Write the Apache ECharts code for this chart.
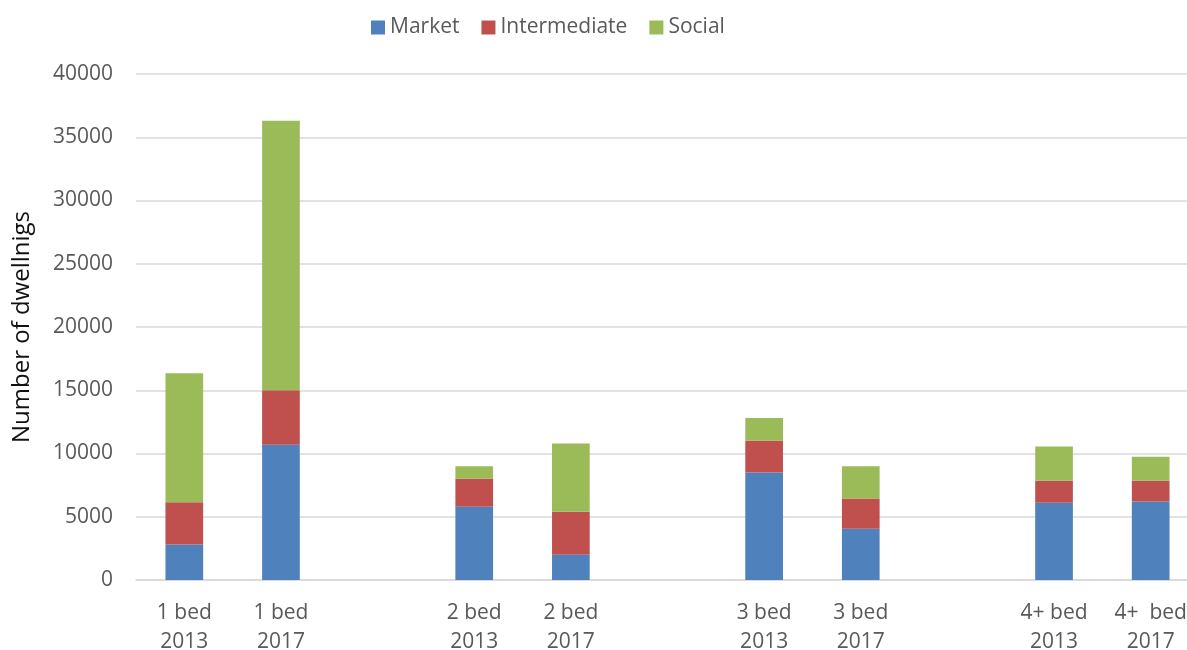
<!DOCTYPE html>
<html>
<head>
<meta charset="utf-8">
<script src="https://cdn.jsdelivr.net/npm/echarts@6/dist/echarts.min.js"></script>
<style>
    html, body { margin: 0; padding: 0; background: #fff; }
    #main { width: 1187px; height: 650px; }
</style>
</head>
<body>
<div id="main"></div>
<script>
// categories (empty ones are the gaps between bedroom groups)
var categories = ['1 bed\n2013', '1 bed\n2017', '', '2 bed\n2013', '2 bed\n2017', '', '3 bed\n2013', '3 bed\n2017', '', '4+ bed\n2013', '4+  bed\n2017'];
var market = [2800, 10700, '-', 5800, 2000, '-', 8500, 4050, '-', 6100, 6200];
var intermediate = [3350, 4300, '-', 2200, 3400, '-', 2500, 2400, '-', 1750, 1650];
var social = [10200, 21300, '-', 1000, 5400, '-', 1800, 2550, '-', 2700, 1900];
var yTicks = { min: 0, max: 40000, step: 5000 };

var font = '"Open Sans", sans-serif';
var chart = echarts.init(document.getElementById('main'));

function bar(name, data, color) {
    return {
        name: name,
        type: 'bar',
        stack: 'total',
        barWidth: '39%',
        data: data,
        itemStyle: { color: color },
        emphasis: { disabled: true }
    };
}

var option = {
    backgroundColor: '#fff',
    animation: false,
    textStyle: { fontFamily: font },
    legend: {
        top: 12,
        left: 366,
        icon: 'rect',
        itemWidth: 14,
        itemHeight: 14,
        itemGap: 22,
        textStyle: { fontFamily: font, fontSize: 21, color: '#595959' },
        data: ['Market', 'Intermediate', 'Social']
    },
    grid: {
        left: 136,
        right: -12,
        top: 74,
        bottom: 70,
        outerBoundsMode: 'none'
    },
    xAxis: {
        type: 'category',
        data: categories,
        axisTick: { show: false },
        axisLine: { lineStyle: { color: '#d9d9d9', width: 1.5 } },
        axisLabel: {
            interval: 0,
            margin: 19,
            fontFamily: font,
            fontSize: 21,
            lineHeight: 29,
            color: '#595959'
        }
    },
    yAxis: {
        type: 'value',
        min: yTicks.min,
        max: yTicks.max,
        interval: yTicks.step,
        name: 'Number of dwellnigs',
        nameLocation: 'middle',
        nameGap: 102,
        nameTextStyle: { fontFamily: font, fontSize: 24, color: '#111' },
        axisLine: { show: false },
        axisTick: { show: false },
        axisLabel: {
            margin: 23,
            fontFamily: font,
            fontSize: 21,
            color: '#595959',
            formatter: function (v) { return String(v); }
        },
        splitLine: { lineStyle: { color: '#d9d9d9', width: 1.5 } }
    },
    series: [
        bar('Market', market, '#4f81bd'),
        bar('Intermediate', intermediate, '#c0504d'),
        bar('Social', social, '#9bbb59')
    ]
};

chart.setOption(option);
</script>
</body>
</html>
